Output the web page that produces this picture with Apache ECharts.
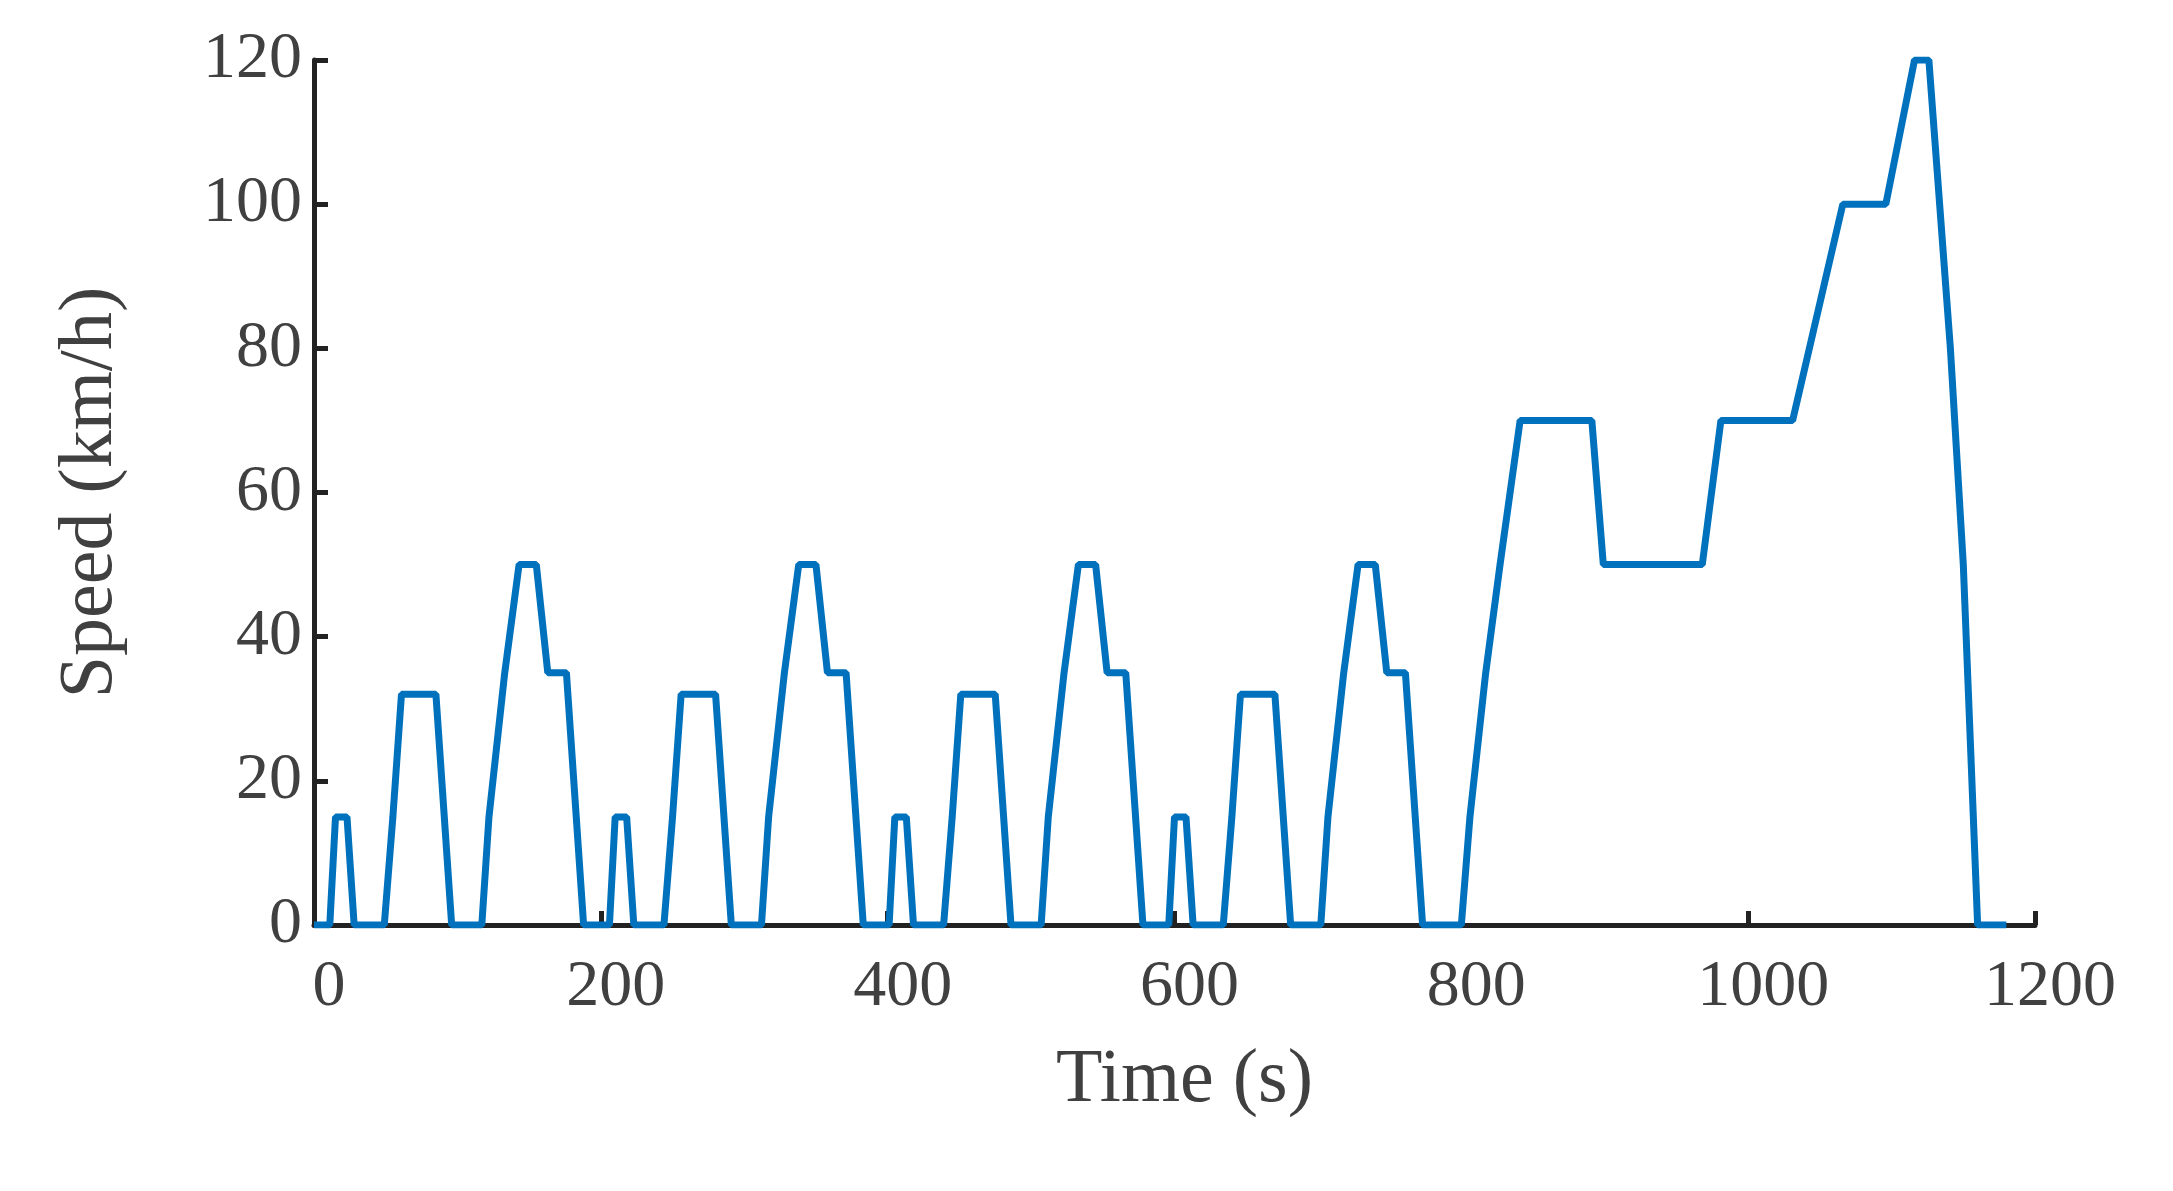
<!DOCTYPE html>
<html>
<head>
<meta charset="utf-8">
<script src="https://cdn.jsdelivr.net/npm/echarts@6.0.0/dist/echarts.min.js"></script>
<style>html,body{margin:0;padding:0;background:#fff}#chart{width:2173px;height:1191px}</style>
</head>
<body>
<div id="chart"></div>
<script>
// ECE-15 urban cycle (one repetition, 195 s): [time, speed]
var eceTimes  = [0, 11, 15, 23, 28, 49, 55, 61, 85, 96, 117, 122, 133, 143, 155, 163, 176, 188, 195];
var eceSpeeds = [0, 0, 15, 15, 0, 0, 15, 32, 32, 0, 0, 15, 35, 50, 50, 35, 35, 0, 0];
// extra-urban part (starts at 780 s)
var eudcTimes  = [800, 806, 817, 827, 841, 891, 899, 968, 981, 1031, 1066, 1096, 1116, 1126, 1141, 1150, 1160, 1180];
var eudcSpeeds = [0, 15, 35, 50, 70, 70, 50, 50, 70, 70, 100, 100, 120, 120, 80, 50, 0, 0];
var xTicks = [0, 200, 400, 600, 800, 1000, 1200];

var speedData = [];
for (var k = 0; k < 4; k++) {
  for (var i = 0; i < eceTimes.length; i++) {
    speedData.push([eceTimes[i] + 195 * k, eceSpeeds[i]]);
  }
}
for (var j = 0; j < eudcTimes.length; j++) speedData.push([eudcTimes[j], eudcSpeeds[j]]);

var font = 'Liberation Serif';
var chart = echarts.init(document.getElementById('chart'));
chart.setOption({
  animation: false,
  grid: {left: 314, top: 60, right: 138, bottom: 266},
  xAxis: {
    type: 'value', min: 0, max: 1200, interval: 200,
    name: 'Time (s)', nameLocation: 'middle', nameGap: 118,
    nameTextStyle: {fontFamily: font, fontSize: 76, color: '#404040', padding: [0, 0, 0, 20]},
    axisLine: {lineStyle: {color: '#222', width: 5}},
    axisTick: {inside: true, length: 14, lineStyle: {color: '#222', width: 5}},
    axisLabel: {fontFamily: font, fontSize: 66, color: '#404040', margin: 30, padding: [0, 0, 0, 30],
      formatter: function (v) { return xTicks.indexOf(v) >= 0 ? String(v) : ''; }},
    splitLine: {show: false}
  },
  yAxis: {
    type: 'value', min: 0, max: 120, interval: 20,
    name: 'Speed (km/h)', nameLocation: 'middle', nameGap: 185,
    nameTextStyle: {fontFamily: font, fontSize: 76, color: '#404040'},
    axisLine: {show: true, lineStyle: {color: '#222', width: 5}},
    axisTick: {show: true, inside: true, length: 14, lineStyle: {color: '#222', width: 5}},
    axisLabel: {fontFamily: font, fontSize: 66, color: '#404040', margin: 12},
    splitLine: {show: false}
  },
  series: [{
    type: 'line', data: speedData, showSymbol: false,
    lineStyle: {color: '#0072BD', width: 7}
  }]
});
</script>
</body>
</html>
